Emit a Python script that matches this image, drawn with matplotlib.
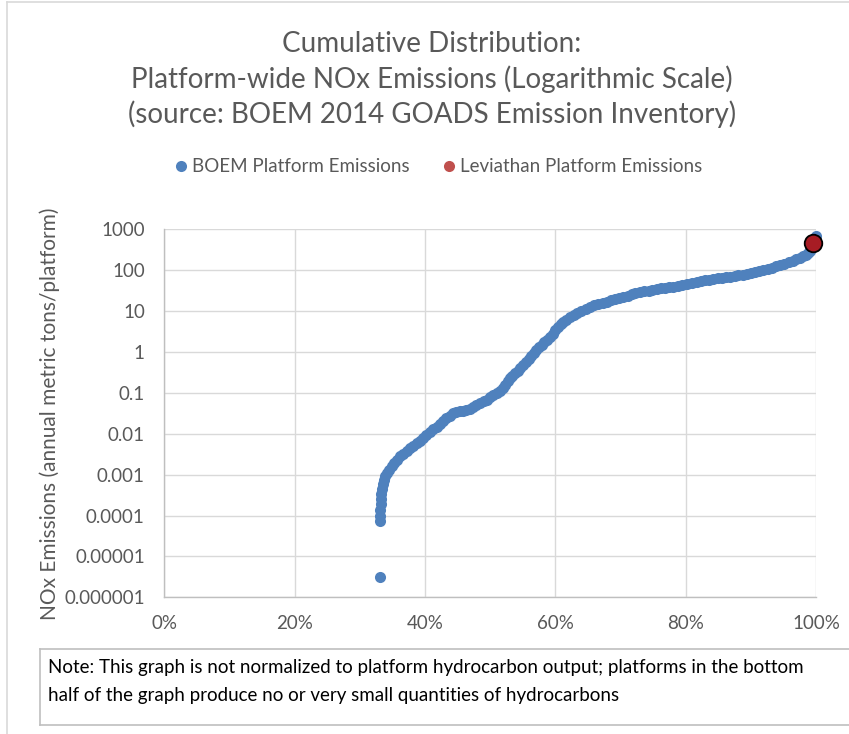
import matplotlib
matplotlib.use("Agg")
import matplotlib.pyplot as plt
from matplotlib.lines import Line2D
from matplotlib.ticker import FixedLocator, FixedFormatter, PercentFormatter

plt.rcParams['font.family'] = ['Lato', 'DejaVu Sans']

# cumulative share of platforms (%) and NOx emissions (t/yr)
boem_pct = [
    33.15, 33.15, 33.15, 33.17, 33.2, 33.25, 33.3, 33.4, 33.5, 33.7, 33.9,
    34.2, 34.5, 34.9, 35.3, 35.7, 36.2, 36.7, 37.2, 37.7, 38.2, 38.7, 39.2,
    39.7, 40.2, 40.7, 41.2, 41.8, 42.3, 42.8, 43.3, 43.8, 44.3, 44.8, 45.3,
    45.8, 46.3, 46.9, 47.4, 47.9, 48.4, 49.0, 49.5, 50.0, 50.5, 51.0, 51.5,
    51.9, 52.3, 52.7, 53.0, 53.4, 53.8, 54.2, 54.6, 55.1, 55.5, 55.9, 56.3,
    56.7, 57.1, 57.5, 57.9, 58.3, 58.7, 59.2, 59.6, 60.0, 60.4, 60.8, 61.2,
    61.7, 62.2, 62.8, 63.4, 64.0, 64.7, 65.3, 66.0, 66.6, 67.3, 67.9, 68.6,
    69.2, 69.8, 70.4, 71.1, 71.7, 72.3, 73.0, 73.6, 74.3, 74.9, 75.6, 76.2,
    76.8, 77.5, 78.1, 78.8, 79.5, 80.2, 80.9, 81.7, 82.3, 82.9, 83.6, 84.2,
    84.9, 85.5, 86.2, 86.8, 87.5, 88.1, 88.8, 89.4, 90.0, 90.7, 91.3, 91.9,
    92.6, 93.2, 93.9, 94.5, 95.1, 95.8, 96.4, 97.0, 97.5, 98.0, 98.5, 98.8,
    99.1, 99.4, 99.6, 99.8, 99.95,
]
boem_nox = [
    3.1e-6, 7.5e-5, 1.0e-4, 1.4e-4, 1.9e-4, 2.6e-4, 3.4e-4, 4.5e-4, 5.8e-4, 7.5e-4, 9.5e-4,
    1.1e-3, 1.3e-3, 1.6e-3, 1.9e-3, 2.3e-3, 2.8e-3, 3.2e-3, 3.8e-3, 4.4e-3, 5.1e-3, 5.8e-3, 6.8e-3,
    7.8e-3, 9.1e-3, 0.011, 0.013, 0.015, 0.0174, 0.0204, 0.024, 0.0275, 0.0316, 0.034, 0.0355,
    0.0363, 0.038, 0.041, 0.045, 0.050, 0.055, 0.062, 0.068, 0.078, 0.087, 0.10, 0.112,
    0.13, 0.16, 0.195, 0.23, 0.26, 0.30, 0.35, 0.40, 0.48, 0.56, 0.66, 0.79,
    0.93, 1.12, 1.32, 1.5, 1.74, 2.0, 2.35, 2.8, 3.4, 4.1, 4.8, 5.4,
    6.2, 7.1, 7.9, 8.9, 10, 11.5, 12.9, 14.1, 15.1, 16.2, 17.0, 18.6,
    20.0, 21.4, 22.4, 24.0, 25.7, 27.5, 28.8, 30.2, 31.6, 33.1, 34.7, 36.3,
    37.2, 38.9, 39.8, 41.7, 43.7, 45.7, 49, 52.5, 53.7, 56.2, 57.5, 60.3,
    63, 64.6, 67.6, 69.2, 72.4, 75.9, 77.6, 81.3, 85.1, 89.1, 93.3, 100,
    107, 115, 126, 135, 145, 155, 170, 186, 204, 219, 240, 257,
    295, 355, 427, 525, 690,
]
leviathan_pct = [99.5]
leviathan_nox = [450]

y_ticks = [1e3, 1e2, 1e1, 1, 0.1, 0.01, 0.001, 0.0001, 0.00001, 0.000001]
y_tick_labels = ['1000', '100', '10', '1', '0.1', '0.01', '0.001', '0.0001',
                 '0.00001', '0.000001']
x_ticks = [0, 20, 40, 60, 80, 100]

W, H = 849, 734
fig = plt.figure(figsize=(W / 100, H / 100), dpi=100)
ax = fig.add_axes([164.3 / W, 1 - 597.3 / H, (816 - 164.3) / W, (597.3 - 229.3) / H])

blue = '#4F81BD'
gray_txt = '#595959'

ax.scatter(boem_pct, boem_nox, s=64, color=blue, linewidths=0, zorder=3, clip_on=False)
ax.scatter(leviathan_pct, leviathan_nox, s=160, color='#A71C24', edgecolors='black',
           linewidths=1.3, zorder=4, clip_on=False)

ax.set_yscale('log')
ax.set_ylim(1e-6, 1e3)
ax.set_xlim(0, 100)
ax.yaxis.set_major_locator(FixedLocator(y_ticks))
ax.yaxis.set_major_formatter(FixedFormatter(y_tick_labels))
ax.yaxis.set_minor_locator(FixedLocator([]))
ax.xaxis.set_major_locator(FixedLocator(x_ticks))
ax.xaxis.set_major_formatter(PercentFormatter(decimals=0))
ax.grid(True, color='#D9D9D9', linewidth=1.0, zorder=0)
ax.set_axisbelow(True)
for side in ['top', 'right']:
    ax.spines[side].set_visible(False)
for side in ['left', 'bottom']:
    ax.spines[side].set_color('#BFBFBF')
    ax.spines[side].set_linewidth(1.0)
ax.tick_params(length=0, labelsize=13.5, labelcolor=gray_txt)
ax.tick_params(axis='y', pad=14)
ax.tick_params(axis='x', pad=13)
ax.set_ylabel('NOx Emissions (annual metric tons/platform)', fontsize=15,
              color=gray_txt, labelpad=3)

# title
title_lines = ['Cumulative Distribution:',
               'Platform-wide NOx Emissions (Logarithmic Scale)',
               '(source: BOEM 2014 GOADS Emission Inventory)']
for i, line in enumerate(title_lines):
    fig.text(432 / W, 1 - (44 + 35 * i) / H, line, ha='center', va='center',
             fontsize=20, color=gray_txt)

# legend
handles = [Line2D([], [], marker='o', linestyle='none', markersize=8,
                  markerfacecolor=blue, markeredgewidth=0),
           Line2D([], [], marker='o', linestyle='none', markersize=8,
                  markerfacecolor='#C0504D', markeredgewidth=0)]
fig.legend(handles, ['BOEM Platform Emissions', 'Leviathan Platform Emissions'],
           loc='center', bbox_to_anchor=(437 / W, 1 - 167 / H), ncol=2, frameon=False,
           fontsize=13.5, labelcolor=gray_txt, handletextpad=0.1, columnspacing=1.6,
           handlelength=1.0)

# outer chart border
fig.add_artist(Line2D([7 / W, 7 / W], [0, 1 - 2 / H], color='#D9D9D9', linewidth=1.2))
fig.add_artist(Line2D([7 / W, 1], [1 - 2 / H, 1 - 2 / H], color='#D9D9D9', linewidth=1.2))

# note box
note = fig.add_axes([40 / W, 1 - 725 / H, (W - 38) / W, 76 / H])
note.set_xticks([])
note.set_yticks([])
for side in note.spines.values():
    side.set_color('#BFBFBF')
    side.set_linewidth(1.2)
note.text(8 / (W - 40), 0.75,
          'Note: This graph is not normalized to platform hydrocarbon output; platforms in the bottom',
          transform=note.transAxes, ha='left', va='center', fontsize=13.5, color='black')
note.text(8 / (W - 40), 0.39,
          'half of the graph produce no or very small quantities of hydrocarbons',
          transform=note.transAxes, ha='left', va='center', fontsize=13.5, color='black')

fig.savefig('out.png', dpi=100)
